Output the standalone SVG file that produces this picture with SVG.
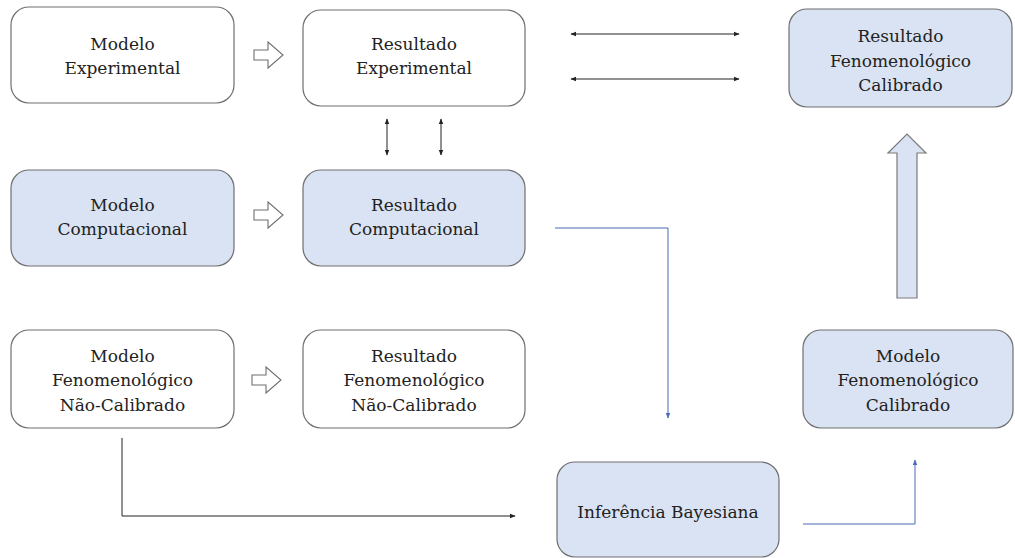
<svg xmlns="http://www.w3.org/2000/svg" width="1015" height="558" viewBox="0 0 1015 558">
<style>
.box{stroke:#6f6f6f;stroke-width:1.2;}
.w{fill:#ffffff;}
.b{fill:#dae3f3;}
text{font-family:"DejaVu Serif","Liberation Serif",serif;font-size:17px;fill:#222;text-anchor:middle;}
.k{stroke:#222;stroke-width:1;fill:none;}
.bl{stroke:#4a6bb5;stroke-width:1;fill:none;}
.hol{fill:#fff;stroke:#6f6f6f;stroke-width:1.1;}
</style>
<defs>
<marker id="ak" viewBox="0 0 10 10" refX="9" refY="5" markerWidth="6" markerHeight="6" orient="auto-start-reverse"><path d="M0,1 L10,5 L0,9 z" fill="#222"/></marker>
<marker id="ab" viewBox="0 0 10 10" refX="9" refY="5" markerWidth="6" markerHeight="6" orient="auto"><path d="M0,1 L10,5 L0,9 z" fill="#4a6bb5"/></marker>
</defs>
<rect width="1015" height="558" fill="#fff"/>
<g id="modelo-experimental"><rect class="box w" x="11" y="7" width="223" height="96" rx="18"/><text x="122.5" y="50">Modelo</text><text x="122.5" y="74">Experimental</text></g>
<g id="resultado-experimental"><rect class="box w" x="303" y="10" width="222" height="96" rx="18"/><text x="414" y="50">Resultado</text><text x="414" y="74">Experimental</text></g>
<g id="modelo-computacional"><rect class="box b" x="11" y="170" width="223" height="96" rx="18"/><text x="122.5" y="211">Modelo</text><text x="122.5" y="235">Computacional</text></g>
<g id="resultado-computacional"><rect class="box b" x="303" y="170" width="222" height="96" rx="18"/><text x="414" y="211">Resultado</text><text x="414" y="235">Computacional</text></g>
<g id="modelo-fen-nc"><rect class="box w" x="11" y="330" width="223" height="98" rx="18"/><text x="122.5" y="362">Modelo</text><text x="122.5" y="386">Fenomenológico</text><text x="122.5" y="411">Não-Calibrado</text></g>
<g id="resultado-fen-nc"><rect class="box w" x="303" y="330" width="222" height="98" rx="18"/><text x="414" y="362">Resultado</text><text x="414" y="386">Fenomenológico</text><text x="414" y="411">Não-Calibrado</text></g>
<g id="resultado-fen-cal"><rect class="box b" x="789" y="9" width="223" height="98" rx="18"/><text x="900.5" y="42">Resultado</text><text x="900.5" y="67">Fenomenológico</text><text x="900.5" y="91">Calibrado</text></g>
<g id="modelo-fen-cal"><rect class="box b" x="803" y="330" width="210" height="98" rx="18"/><text x="908" y="362">Modelo</text><text x="908" y="386">Fenomenológico</text><text x="908" y="411">Calibrado</text></g>
<g id="inferencia"><rect class="box b" x="557" y="462" width="222" height="95" rx="18"/><text x="668" y="518">Inferência Bayesiana</text></g>
<g id="connectors">
<path class="hol" d="M254,50 L268,50 L268,42 L283,55 L268,68 L268,60 L254,60 z"/>
<path class="hol" d="M254,210 L268,210 L268,202 L283,215 L268,228 L268,220 L254,220 z"/>
<path class="hol" d="M252,375 L266,375 L266,367 L281,380 L266,393 L266,385 L252,385 z"/>
<line class="k" x1="387" y1="119" x2="387" y2="155" marker-start="url(#ak)" marker-end="url(#ak)"/>
<line class="k" x1="441" y1="119" x2="441" y2="155" marker-start="url(#ak)" marker-end="url(#ak)"/>
<line class="k" x1="571" y1="34" x2="739" y2="34" marker-start="url(#ak)" marker-end="url(#ak)"/>
<line class="k" x1="571" y1="79" x2="739" y2="79" marker-start="url(#ak)" marker-end="url(#ak)"/>
<path d="M897,298 L897,153 L888,153 L907,134 L926,153 L917,153 L917,298 z" fill="#dae3f3" stroke="#7a7a7a" stroke-width="1.2"/>
<path class="bl" d="M555,228 L668,228 L668,418" marker-end="url(#ab)"/>
<path class="k" d="M122,438 L122,516 L515,516" marker-end="url(#ak)"/>
<path class="bl" d="M803,524 L915,524 L915,460" marker-end="url(#ab)"/>
</g>
</svg>
